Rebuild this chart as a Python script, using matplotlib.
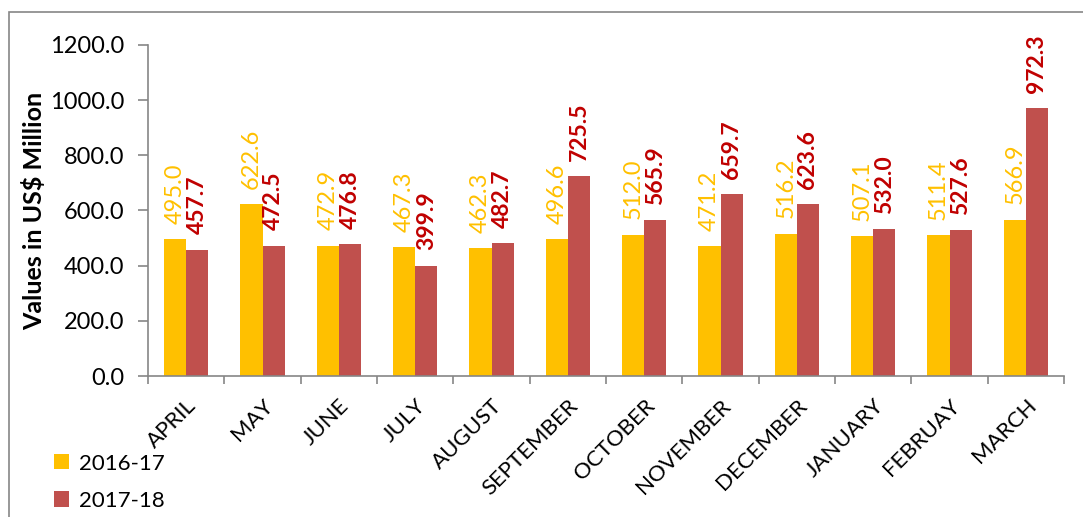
import matplotlib.pyplot as plt
import matplotlib.patches as patches
import numpy as np

plt.rcParams['font.family'] = ['Lato', 'DejaVu Sans']

months = ['APRIL', 'MAY', 'JUNE', 'JULY', 'AUGUST', 'SEPTEMBER', 'OCTOBER',
          'NOVEMBER', 'DECEMBER', 'JANUARY', 'FEBRUAY', 'MARCH']
vals_2016 = [495.0, 622.6, 472.9, 467.3, 462.3, 496.6, 512.0, 471.2, 516.2, 507.1, 511.4, 566.9]
vals_2017 = [457.7, 472.5, 476.8, 399.9, 482.7, 725.5, 565.9, 659.7, 623.6, 532.0, 527.6, 972.3]
series_names = ['2016-17', '2017-18']

yellow = '#FFC000'
red_bar = '#C0504D'
red_txt = '#C00000'
axis_col = '#868686'

fig = plt.figure(figsize=(10.83, 5.17), dpi=100)
ax = fig.add_axes([0.1367, 0.2727, 0.8458, 0.6403])

# outer chart frame
fig.patches.append(patches.Rectangle((9 / 1083, -0.1), 1.0, 1.1 - 12 / 517,
                                     transform=fig.transFigure, fill=False,
                                     edgecolor=axis_col, linewidth=1.2))

x = np.arange(len(months))
w = 0.29
b1 = ax.bar(x - w / 2, vals_2016, w, color=yellow, label=series_names[0])
b2 = ax.bar(x + w / 2, vals_2017, w, color=red_bar, label=series_names[1])

for rect, v in zip(b1, vals_2016):
    ax.annotate(f'{v:.1f}', (rect.get_x() + rect.get_width() / 2, v),
                xytext=(0, 11), textcoords='offset points', rotation=90,
                ha='center', va='bottom', color=yellow, fontsize=17)
for rect, v in zip(b2, vals_2017):
    ax.annotate(f'{v:.1f}', (rect.get_x() + rect.get_width() / 2, v),
                xytext=(0, 11), textcoords='offset points', rotation=90,
                ha='center', va='bottom', color=red_txt, fontsize=16.5,
                fontweight='bold')

ax.set_xlim(-0.5, len(months) - 0.5)
ax.set_ylim(0, 1200)
ax.set_yticks(np.arange(0, 1201, 200))
ax.set_yticklabels([f'{t:.1f}' for t in np.arange(0, 1201, 200)], fontsize=17)
ax.set_ylabel('Values in US$ Million', fontsize=18, fontweight='bold', labelpad=3)

ax.set_xticks(x)
ax.set_xticklabels(months, rotation=45, ha='right', rotation_mode='anchor', fontsize=16)
ax.tick_params(axis='x', length=0, pad=14)
ax.set_xticks(np.arange(-0.5, len(months)), minor=True)
ax.tick_params(axis='x', which='minor', length=6, color=axis_col, width=1.2)
ax.tick_params(axis='y', length=7, color=axis_col, width=1.2, pad=10)

for s in ['top', 'right']:
    ax.spines[s].set_visible(False)
for s in ['left', 'bottom']:
    ax.spines[s].set_color(axis_col)
    ax.spines[s].set_linewidth(1.2)

fig.legend(handles=[b1, b2], labels=series_names, loc='upper left',
           bbox_to_anchor=(0.042, 0.14), bbox_transform=fig.transFigure,
           frameon=False, fontsize=16, handlelength=0.68, handleheight=0.68,
           handletextpad=0.45, labelspacing=0.78, borderaxespad=0)

fig.savefig('out.png', dpi=100)
